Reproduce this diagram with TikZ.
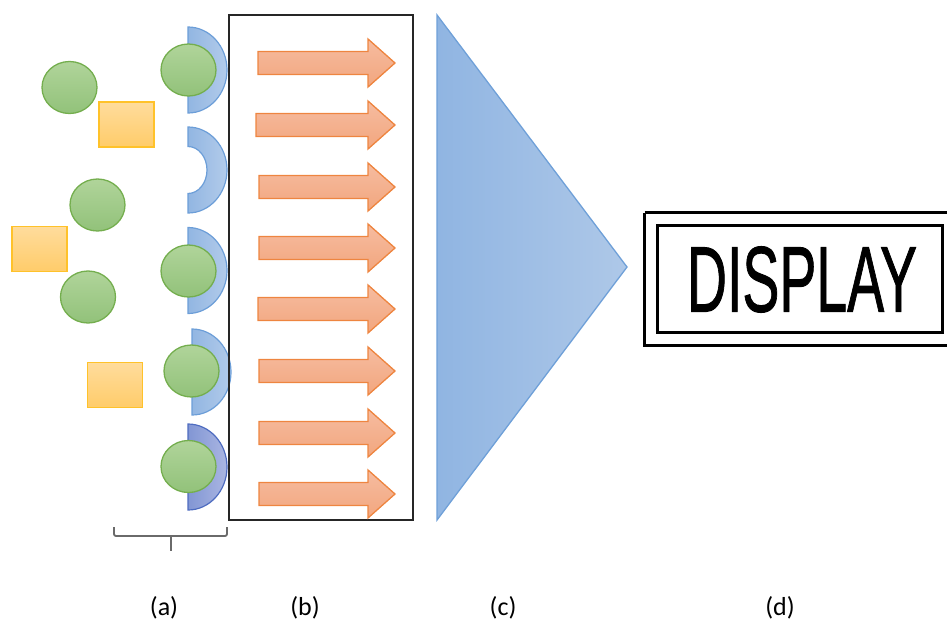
\documentclass[tikz,border=0pt]{standalone}
\usepackage{fontspec}
\setmainfont{Carlito}
\newfontfamily\dispfont[FakeBold=1.2]{Liberation Sans}
\usetikzlibrary{shapes.geometric}
\definecolor{grfillA}{HTML}{B0D49A}
\definecolor{grfillB}{HTML}{92C27A}
\definecolor{grline}{HTML}{74AE4E}
\definecolor{sqfillA}{HTML}{FFDC9C}
\definecolor{sqfillB}{HTML}{FFCC6A}
\definecolor{sqline}{HTML}{FFC22A}
\definecolor{arfillA}{HTML}{F6BCA0}
\definecolor{arfillB}{HTML}{F2A67E}
\definecolor{arline}{HTML}{EE8540}
\definecolor{rgfillA}{HTML}{92B6E2}
\definecolor{rgfillB}{HTML}{B2CBEA}
\definecolor{rgline}{HTML}{6C9ED8}
\definecolor{rdfillA}{HTML}{8296D4}
\definecolor{rdfillB}{HTML}{AAB6E2}
\definecolor{rdline}{HTML}{4E6CC0}
\definecolor{trfillA}{HTML}{90B5E2}
\definecolor{trfillB}{HTML}{AEC8E8}
\definecolor{trline}{HTML}{6FA0D8}
\definecolor{brace}{HTML}{6A6A6A}
\tikzset{
  ball/.style={ellipse, draw=grline, line width=1.3pt, top color=grfillA, bottom color=grfillB, minimum width=55pt, minimum height=52pt, inner sep=0pt},
  sq/.style={rectangle, draw=sqline, line width=1.3pt, top color=sqfillA, bottom color=sqfillB, minimum width=55pt, minimum height=45pt, inner sep=0pt},
  ringstyle/.style={draw=rgline, line width=1.2pt, left color=rgfillA, right color=rgfillB},
  ringdark/.style={draw=rdline, line width=1.2pt, left color=rdfillA, right color=rdfillB},
  arrowstyle/.style={draw=arline, line width=1.3pt, top color=arfillA, bottom color=arfillB, line join=miter},
  lbl/.style={font=\fontsize{26pt}{30pt}\selectfont, inner sep=0pt},
}
\begin{document}
\begin{tikzpicture}[x=1pt,y=-1pt]
\useasboundingbox (0,0) rectangle (947,621);
% loose particles
\node[ball] (b1) at (69.5,87.5) {};
\node[sq] (s1) at (126.5,124.5) {};
\node[ball] (b2) at (97.5,205) {};
\node[sq] (s2) at (39.5,249) {};
\node[ball] (b3) at (88,297) {};
\node[sq] (s3) at (115,385) {};
% half rings
\foreach \cx/\cy/\st in {188/70/ringstyle, 188/170/ringstyle, 188/270.5/ringstyle, 192/372/ringstyle, 188/467/ringdark}{
  \path[\st] (\cx,\cy+43) arc[start angle=-90, end angle=90, x radius=39pt, y radius=43pt]
    -- (\cx,\cy-23.5) arc[start angle=90, end angle=-90, x radius=19pt, y radius=23.5pt] -- cycle;
}
% bound particles
\node[ball] (c1) at (188.5,70) {};
\node[ball] (c3) at (188.5,271) {};
\node[ball] (c4) at (191.5,371) {};
\node[ball] (c5) at (188.5,466.5) {};
% box (b)
\node[draw=black!85, line width=1.3pt, minimum width=184pt, minimum height=505pt, inner sep=0pt] (box) at (321,267.5) {};
% arrows
\foreach \y/\tx in {63/258, 125/256, 187/259, 248/259, 309/258, 371/259, 433/259, 494/259}{
  \path[arrowstyle] (\tx,\y-11.5) -- (368,\y-11.5) -- (368,\y-24) -- (395,\y) -- (368,\y+24) -- (368,\y+11.5) -- (\tx,\y+11.5) -- cycle;
}
% triangle (c)
\path[draw=trline, line width=1.3pt, left color=trfillA, right color=trfillB, line join=miter] (437,15) -- (627,267) -- (437,520) -- cycle;
% display (d)
\draw[line width=3pt, black] (644.5,212.5) -- (955,212.5) (644.5,212.5) -- (644.5,345.5) -- (955,345.5);
\node[draw=black, line width=3pt, minimum width=285pt, minimum height=107pt, inner sep=0pt] (disp) at (799.5,278.5) {};
\node[inner sep=0pt] (dtext) at (802,279.5) {\resizebox{230pt}{65pt}{\dispfont DISPLAY}};
% brace
\coordinate (bl) at (114,527);
\coordinate (br) at (227,527);
\coordinate (bm) at (171,536);
\draw[brace, line width=1.8pt, rounded corners=2pt] (bl) -- (114,536) -- (227,536) -- (br);
\draw[brace, line width=1.8pt] (bm) -- (171,551);
% labels
\node[lbl] (la) at (164,608) {(a)};
\node[lbl] (lb) at (305,608) {(b)};
\node[lbl] (lc) at (503,608) {(c)};
\node[lbl] (ld) at (780,608) {(d)};
\end{tikzpicture}
\end{document}
